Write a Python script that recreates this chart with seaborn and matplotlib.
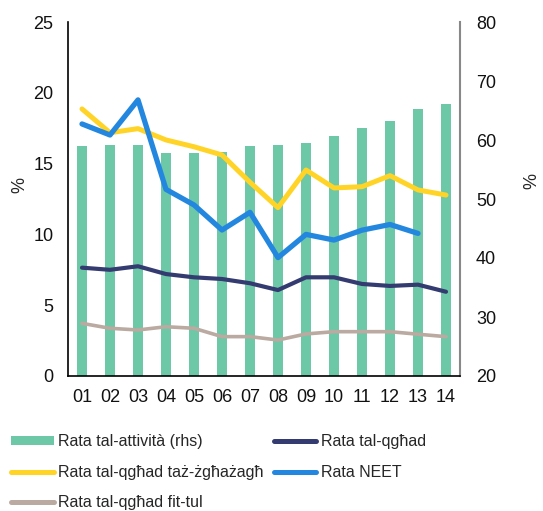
import matplotlib
matplotlib.use("Agg")
import matplotlib.pyplot as plt
import seaborn as sns
import pandas as pd
from matplotlib.patches import Patch
from matplotlib.lines import Line2D

years = ["01", "02", "03", "04", "05", "06", "07", "08", "09", "10", "11", "12", "13", "14"]
activity_rate = [58.9, 59.1, 59.2, 57.8, 57.8, 58.0, 59.0, 59.2, 59.5, 60.6, 62.0, 63.3, 65.2, 66.1]
unemployment = [7.65, 7.5, 7.75, 7.2, 6.97, 6.85, 6.55, 6.07, 6.97, 6.97, 6.5, 6.36, 6.45, 5.95]
youth_unemployment = [18.86, 17.18, 17.47, 16.67, 16.19, 15.61, 13.68, 11.89, 14.55, 13.28, 13.37, 14.15, 13.14, 12.78]
neet_rate = [17.8, 17.02, 19.5, 13.18, 12.08, 10.31, 11.56, 8.36, 10.0, 9.6, 10.3, 10.7, 10.07, None]
longterm_unemployment = [3.72, 3.37, 3.25, 3.48, 3.37, 2.78, 2.78, 2.54, 2.97, 3.13, 3.13, 3.13, 2.95, 2.78]

labels = ["Rata tal-attività (rhs)", "Rata tal-qgħad", "Rata tal-qgħad taż-żgħażagħ",
          "Rata NEET", "Rata tal-qgħad fit-tul"]

c_bar = "#6DC8A8"
c_navy = "#343B70"
c_yellow = "#FFD426"
c_blue = "#2487DF"
c_grey = "#BAAAA1"

sns.set_style("white")
plt.rcParams["font.family"] = ["Liberation Sans", "DejaVu Sans"]

fig = plt.figure(figsize=(5.43, 5.11), dpi=100)
ax = fig.add_axes([68 / 543, 1 - 376 / 511, (460 - 68) / 543, (376 - 22) / 511])
ax2 = ax.twinx()

df = pd.DataFrame({"year": years, "activity": activity_rate, "unemp": unemployment,
                   "youth": youth_unemployment, "neet": neet_rate, "lt": longterm_unemployment})
df["x"] = range(len(years))

sns.barplot(data=df, x="year", y="activity", ax=ax2, color=c_bar, width=0.38,
            saturation=1, edgecolor="none")
ax2.set_ylim(20, 80)
ax2.set_yticks(range(20, 81, 10))

sns.lineplot(data=df, x="x", y="youth", ax=ax, color=c_yellow, lw=3.6, solid_capstyle="round")
sns.lineplot(data=df, x="x", y="neet", ax=ax, color=c_blue, lw=3.8, solid_capstyle="round")
sns.lineplot(data=df, x="x", y="unemp", ax=ax, color=c_navy, lw=3.0, solid_capstyle="round")
sns.lineplot(data=df, x="x", y="lt", ax=ax, color=c_grey, lw=2.6, solid_capstyle="round")

ax.set_zorder(ax2.get_zorder() + 1)
ax.patch.set_visible(False)

ax.set_xlim(-0.5, len(years) - 0.5)
ax2.set_xlim(-0.5, len(years) - 0.5)
ax.set_ylim(0, 25)
ax.set_yticks(range(0, 26, 5))
ax.set_xticks(range(len(years)))
ax.set_xticklabels(years)

for a in (ax, ax2):
    a.tick_params(axis="both", length=0, labelsize=13, colors="#111111")
    a.spines["top"].set_visible(False)
    a.set_xlabel("")
ax.tick_params(axis="x", pad=9)
ax.spines["right"].set_visible(False)
ax.spines["left"].set_color("black")
ax.spines["bottom"].set_color("black")
ax.spines["left"].set_linewidth(1.2)
ax.spines["bottom"].set_linewidth(1.2)
ax2.spines["left"].set_visible(False)
ax2.spines["bottom"].set_visible(False)
ax2.spines["right"].set_color("#888888")
ax2.spines["right"].set_linewidth(1.5)
ax.tick_params(axis="y", pad=10.5)
ax2.tick_params(axis="y", pad=11.5)

ax.set_ylabel("%", fontsize=13)
ax2.set_ylabel("%", fontsize=13, rotation=90)
ax.yaxis.set_label_coords((28 - 68) / 392, 0.54)
ax2.yaxis.set_label_coords((523 - 68) / 392, 0.55)

handles = [
    Patch(facecolor=c_bar, edgecolor="none"),
    Line2D([], [], color=c_yellow, lw=3.6, solid_capstyle="round"),
    Line2D([], [], color=c_grey, lw=3.6, solid_capstyle="round"),
    Line2D([], [], color=c_navy, lw=3.6, solid_capstyle="round"),
    Line2D([], [], color=c_blue, lw=3.6, solid_capstyle="round"),
]
hl = [labels[0], labels[2], labels[4], labels[1], labels[3]]
fig.legend(handles, hl, loc="upper left", bbox_to_anchor=(-3 / 543, 1 - 420 / 511),
           ncol=2, frameon=False, fontsize=11.5, handlelength=2.65, handleheight=0.45,
           handletextpad=0.3, columnspacing=0.6, labelspacing=0.95)

fig.savefig("out.png", dpi=100)
